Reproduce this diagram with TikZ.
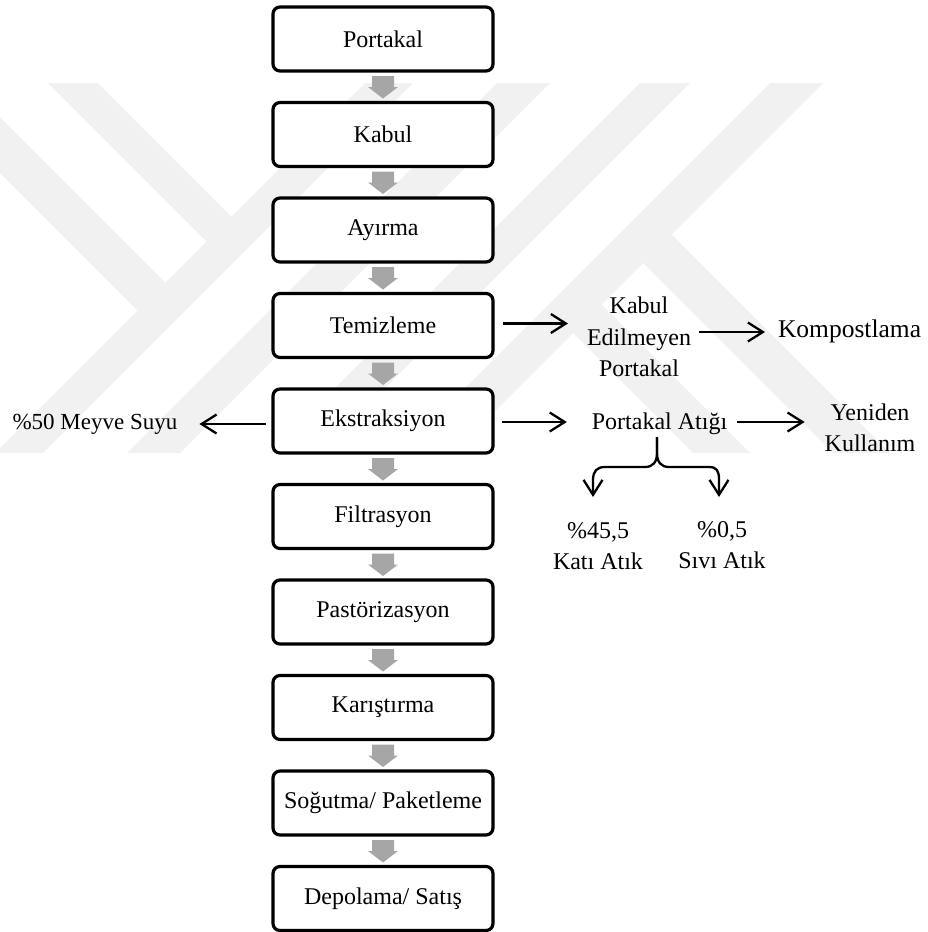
\documentclass[tikz,border=0pt]{standalone}
\usepackage{fontspec}
\setmainfont{Liberation Serif}
\usetikzlibrary{arrows.meta,calc}
\definecolor{flowgray}{HTML}{A6A6A6}
\definecolor{markgray}{HTML}{F1F1F1}
\begin{document}
\begin{tikzpicture}[x=1pt,y=-1pt,
  stepbox/.style={draw=black, line width=3.2pt, rounded corners=7pt, fill=white,
    minimum width=220pt, minimum height=64pt, inner sep=0pt, outer sep=0pt,
    font=\fontsize{24}{31.5}\selectfont},
  sidetext/.style={inner sep=0pt, outer sep=0pt, align=center,
    font=\fontsize{24}{31.5}\selectfont},
  flow/.style={line width=2.3pt, -{Straight Barb[length=15pt,width=19pt,line width=2.3pt]}},
  blockarrow/.style={fill=flowgray, draw=none}
]
\useasboundingbox (0,0) rectangle (927,932);

% faint background emblem made of diagonal bands
\begin{scope}
  \clip (0,0) rectangle (927,932);
  \fill[markgray] (48,83) -- (98,83) -- (237,222) -- (212,247) -- cycle;
  \fill[markgray] (0,117) -- (171,288) -- (143,316) -- (0,173) -- cycle;
  \fill[markgray] (365,83) -- (413,83) -- (43,453) -- (-5,453) -- cycle;
  \fill[markgray] (497,83) -- (550,83) -- (180,453) -- (127,453) -- cycle;
  \fill[markgray] (640,83) -- (690,83) -- (320,453) -- (270,453) -- cycle;
  \fill[markgray] (770,83) -- (823,83) -- (453,453) -- (400,453) -- cycle;
  \fill[markgray] (661,224) -- (890,453) -- (833,453) -- (632,252) -- cycle;
  \fill[markgray] (596,299) -- (750,453) -- (693,453) -- (567,327) -- cycle;
\end{scope}

% main process chain
\node[stepbox] (b1)  at (383,39)    {Portakal};
\node[stepbox] (b2)  at (383,134.5) {Kabul};
\node[stepbox] (b3)  at (383,230)   {Ayırma};
\node[stepbox] (b4)  at (383,325.5) {Temizleme};
\node[stepbox] (b5)  at (383,421)   {Ekstraksiyon};
\node[stepbox] (b6)  at (383,516.5) {Filtrasyon};
\node[stepbox] (b7)  at (383,612)   {Pastörizasyon};
\node[stepbox] (b8)  at (383,707.5) {Karıştırma};
\node[stepbox] (b9)  at (383,803)   {Soğutma/ Paketleme};
\node[stepbox] (b10) at (383,898.5) {Depolama/ Satış};

% wide gray arrows between the steps
\foreach \a/\b in {b1/b2,b2/b3,b3/b4,b4/b5,b5/b6,b6/b7,b7/b8,b8/b9,b9/b10}{
  \fill[blockarrow] ($(\a.south)+(-11,5)$) -- ($(\a.south)+(11,5)$)
    -- ($(\a.south)+(11,16)$) -- ($(\a.south)+(15,16)$)
    -- ($(\b.north)+(0,-4)$)
    -- ($(\a.south)+(-15,16)$) -- ($(\a.south)+(-11,16)$) -- cycle;
}

% side products
\node[sidetext] (kep)   at (639,337) {Kabul\\Edilmeyen\\Portakal};
\node[sidetext, anchor=west, font=\fontsize{25.5}{31.5}\selectfont] (komp) at (778,331) {Kompostlama};
\node[sidetext, font=\fontsize{23}{31.5}\selectfont] (meyve) at (95,424) {\%50 Meyve Suyu};
\node[sidetext] (atik)  at (659.5,424) {Portakal Atığı};
\node[sidetext] (yen)   at (870,428) {Yeniden\\Kullanım};
\node[sidetext] (kati)  at (598,546) {\%45,5\\Katı Atık};
\node[sidetext] (sivi)  at (722,545) {\%0,5\\Sıvı Atık};

\draw[flow, shorten <=10pt, shorten >=19pt] ($(b4.east)+(0,-2)$) -- ($(b4.east -| kep.west)+(0,-2)$);
\draw[flow, shorten <=8pt, shorten >=13pt] (kep.east |- 0,332) -- (komp.west |- 0,332);
\draw[flow, shorten <=7pt, shorten >=22pt] (b5.west |- 0,424) -- (meyve.east |- 0,424);
\draw[flow, shorten <=9pt, shorten >=25pt] (b5.east |- 0,422) -- (atik.west |- 0,422);
\draw[flow, shorten <=10pt, shorten >=20pt] (atik.east |- 0,422) -- (yen.west |- 0,422);

% split of the orange waste
\coordinate (stem) at (657,437);
\coordinate (tipL) at (593,497);
\coordinate (tipR) at (719,497);
\draw[flow] (stem) -- (657,453) .. controls (657,462) and (653,467) .. (645,467)
  -- (605,467) .. controls (597,467) and (593,471) .. (593,480) -- (tipL);
\draw[flow] (stem) -- (657,453) .. controls (657,462) and (661,467) .. (669,467)
  -- (709,467) .. controls (717,467) and (719,471) .. (719,480) -- (tipR);
\end{tikzpicture}
\end{document}
